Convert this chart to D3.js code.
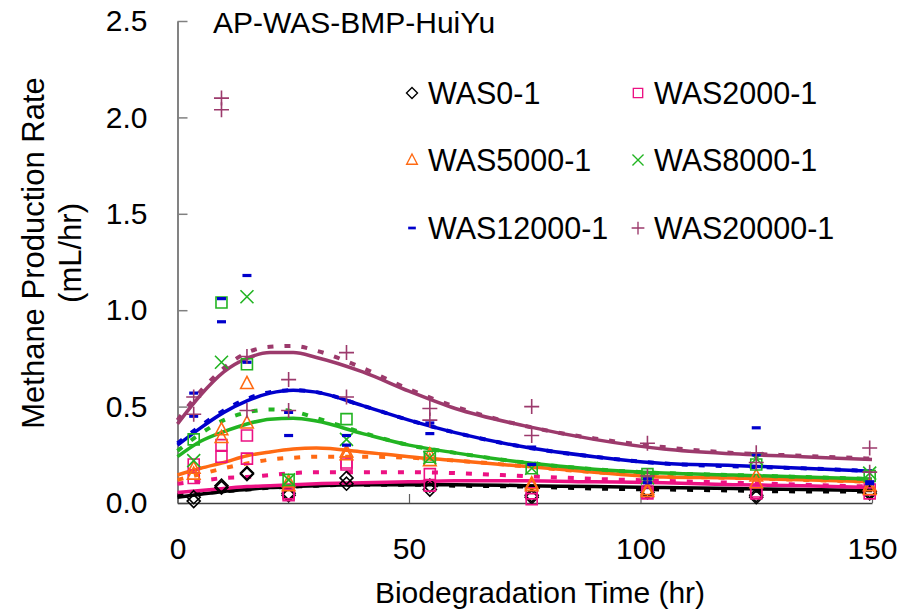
<!DOCTYPE html>
<html><head><meta charset="utf-8">
<script src="https://cdn.jsdelivr.net/npm/d3@7"></script>
<style>
body{margin:0;background:#fff}
svg{display:block}
text{font-family:"Liberation Sans",Arial,sans-serif;fill:#000}
</style>
</head><body>
<svg id="chart" width="906" height="611"></svg>
<script>
// ---------- data ----------
const chartTitle = "AP-WAS-BMP-HuiYu";
const seriesNames = ["WAS0-1","WAS2000-1","WAS5000-1","WAS8000-1","WAS12000-1","WAS20000-1"];
const xTicks = [0, 50, 100, 150];
const yTicks = [0.0, 0.5, 1.0, 1.5, 2.0, 2.5];

// measured points (two replicates per sample time)
const sampleTimes = [3.5, 9.5, 15, 24, 36.5, 54.5, 76.5, 101.5, 125, 149.5];
const was0A     = [0.03, 0.09, 0.155, 0.05, 0.13, 0.09, 0.04, 0.065, 0.03, 0.06];
const was0B     = [0.01, 0.08, 0.15, 0.04, 0.10, 0.07, 0.03, 0.055, 0.04, 0.05];
const was2000A  = [0.20, 0.30, 0.35, 0.05, 0.21, 0.15, 0.02, 0.06, 0.06, 0.07];
const was2000B  = [0.13, 0.24, 0.23, 0.04, 0.20, 0.09, 0.05, 0.05, 0.05, 0.05];
const was5000A  = [0.18, 0.38, 0.62, 0.09, 0.265, 0.25, 0.10, 0.06, 0.14, 0.09];
const was5000B  = [0.15, 0.34, 0.415, 0.11, 0.25, 0.22, 0.09, 0.07, 0.105, 0.07];
const was8000A  = [0.22, 0.73, 1.07, 0.12, 0.33, 0.235, 0.18, 0.13, 0.23, 0.155];
const was8000B  = [0.33, 1.04, 0.72, 0.12, 0.435, 0.24, 0.18, 0.15, 0.20, 0.14];
const was12000A = [0.57, 1.06, 1.18, 0.47, 0.35, 0.415, 0.29, 0.125, 0.39, 0.11];
const was12000B = [0.45, 0.94, 0.73, 0.35, 0.30, 0.36, 0.20, 0.105, 0.25, 0.10];
const was20000A = [0.55, 2.10, 0.76, 0.64, 0.78, 0.49, 0.50, 0.31, 0.26, 0.285];
const was20000B = [0.46, 2.04, 0.48, 0.48, 0.55, 0.43, 0.35, 0.14, 0.21, 0.16];

// fitted curves (solid) and model curves (dashed)
const curveTimes = [0, 5, 10, 15, 20, 25, 30, 40, 50, 60, 75, 90, 105, 120, 135, 150];
const was0Fit      = [0.03, 0.045, 0.06, 0.07, 0.08, 0.085, 0.09, 0.095, 0.095, 0.095, 0.09, 0.085, 0.08, 0.075, 0.07, 0.065];
const was0Model    = [0.04, 0.05, 0.06, 0.07, 0.08, 0.085, 0.09, 0.095, 0.095, 0.09, 0.085, 0.075, 0.07, 0.065, 0.06, 0.06];
const was2000Fit   = [0.055, 0.065, 0.075, 0.085, 0.09, 0.095, 0.10, 0.105, 0.11, 0.115, 0.115, 0.11, 0.105, 0.095, 0.09, 0.08];
const was2000Model = [0.10, 0.115, 0.13, 0.135, 0.145, 0.155, 0.16, 0.16, 0.16, 0.155, 0.14, 0.125, 0.115, 0.105, 0.095, 0.085];
const was5000Fit   = [0.145, 0.18, 0.21, 0.245, 0.265, 0.28, 0.285, 0.265, 0.24, 0.22, 0.19, 0.16, 0.135, 0.13, 0.12, 0.11];
const was5000Model = [0.12, 0.15, 0.18, 0.205, 0.225, 0.235, 0.24, 0.24, 0.235, 0.22, 0.19, 0.16, 0.14, 0.13, 0.12, 0.11];
const was8000Fit   = [0.24, 0.32, 0.37, 0.41, 0.435, 0.44, 0.425, 0.36, 0.30, 0.26, 0.21, 0.175, 0.155, 0.145, 0.135, 0.125];
const was8000Model = [0.27, 0.36, 0.43, 0.47, 0.485, 0.475, 0.44, 0.365, 0.30, 0.26, 0.21, 0.175, 0.155, 0.145, 0.135, 0.125];
const was12000Fit  = [0.30, 0.39, 0.47, 0.53, 0.57, 0.585, 0.575, 0.505, 0.43, 0.365, 0.29, 0.24, 0.205, 0.195, 0.18, 0.165];
const was12000Model= [0.31, 0.40, 0.48, 0.54, 0.575, 0.585, 0.575, 0.505, 0.43, 0.365, 0.29, 0.24, 0.205, 0.19, 0.18, 0.165];
const was20000Fit  = [0.41, 0.56, 0.68, 0.75, 0.78, 0.78, 0.755, 0.68, 0.58, 0.49, 0.40, 0.33, 0.28, 0.255, 0.24, 0.225];
const was20000Model= [0.43, 0.58, 0.70, 0.78, 0.81, 0.815, 0.79, 0.70, 0.59, 0.50, 0.40, 0.335, 0.29, 0.26, 0.245, 0.23];

// ---------- setup ----------
const colors = ["#000000", "#EC1183", "#FF6A13", "#22B422", "#0000CC", "#9C3A6C"];
const markerA = ["diamond", "square", "triangle", "times", "dash", "plus"];
const markerB = ["diamond", "square", "triangle", "square", "dash", "plus"];
const repA = [was0A, was2000A, was5000A, was8000A, was12000A, was20000A];
const repB = [was0B, was2000B, was5000B, was8000B, was12000B, was20000B];
const fits = [was0Fit, was2000Fit, was5000Fit, was8000Fit, was12000Fit, was20000Fit];
const models = [was0Model, was2000Model, was5000Model, was8000Model, was12000Model, was20000Model];

const svg = d3.select("#chart");
const x = d3.scaleLinear().domain([0, 150]).range([177.5, 872]);
const y = d3.scaleLinear().domain([0, 2.5]).range([503, 21]);

function shapePath(kind) {
  switch (kind) {
    case "diamond": return "M0,-6.5L6.5,0L0,6.5L-6.5,0Z";
    case "square": return "M-5.5,-5.5H5.5V5.5H-5.5Z";
    case "triangle": return "M0,-7L6.3,5L-6.3,5Z";
    case "times": return "M-6.5,-6.5L6.5,6.5M-6.5,6.5L6.5,-6.5";
    case "plus": return "M-7.5,0H7.5M0,-7.5V7.5";
    case "dash": return "M-4.5,-1.6H4.5V1.6H-4.5Z";
  }
}
function drawMarker(g, kind, color) {
  g.append("path").attr("d", shapePath(kind))
    .attr("fill", kind === "dash" ? color : "none")
    .attr("stroke", kind === "dash" ? "none" : color)
    .attr("stroke-width", 1.6);
}

// axes
const yAxis = d3.axisLeft(y).tickValues(yTicks).tickFormat(d3.format(".1f"))
  .tickSizeInner(-10).tickSizeOuter(0).tickPadding(30);
const gy = svg.append("g").attr("transform", `translate(${x(0)},0)`).call(yAxis);
gy.select(".domain").attr("stroke", "#404040").attr("stroke-width", 1.3);
gy.selectAll(".tick line").attr("stroke", "#808080").attr("stroke-width", 1.5);
gy.selectAll(".tick text").attr("font-size", 30).attr("fill", "#000")
  .attr("font-family", "Liberation Sans, Arial, sans-serif");

const xAxis = d3.axisBottom(x).tickValues(xTicks).tickFormat(d3.format("d"))
  .tickSizeInner(-9).tickSizeOuter(0).tickPadding(35);
const gx = svg.append("g").attr("transform", `translate(0,${y(0)})`).call(xAxis);
gx.select(".domain").attr("stroke", "#404040").attr("stroke-width", 1.3);
gx.selectAll(".tick line").attr("stroke", "#606060").attr("stroke-width", 1.2);
gx.selectAll(".tick text").attr("font-size", 30).attr("fill", "#000")
  .attr("font-family", "Liberation Sans, Arial, sans-serif");

// curves
const line = d3.line().x((d, i) => x(curveTimes[i])).y(d => y(d)).curve(d3.curveMonotoneX);
const plot = svg.append("g");
for (let s = 0; s < 6; s++) {
  plot.append("path").datum(fits[s]).attr("d", line)
    .attr("fill", "none").attr("stroke", colors[s]).attr("stroke-width", 3.5)
    .attr("stroke-linejoin", "round");
  plot.append("path").datum(models[s]).attr("d", line)
    .attr("fill", "none").attr("stroke", colors[s]).attr("stroke-width", 4)
    .attr("stroke-dasharray", "6,11");
}

// markers
for (let s = 0; s < 6; s++) {
  [[repA[s], markerA[s]], [repB[s], markerB[s]]].forEach(([vals, kind]) => {
    vals.forEach((v, i) => {
      const g = plot.append("g").attr("transform", `translate(${x(sampleTimes[i])},${y(v)})`);
      drawMarker(g, kind, colors[s]);
    });
  });
}

// title
svg.append("text").attr("x", 213).attr("y", 33).attr("font-size", 30).text(chartTitle);

// axis titles
svg.append("text").attr("x", 540).attr("y", 603).attr("text-anchor", "middle")
  .attr("font-size", 30).text("Biodegradation Time (hr)");
const yt = svg.append("g").attr("transform", "translate(0,253) rotate(-90)");
yt.append("text").attr("x", 0).attr("y", 44).attr("text-anchor", "middle")
  .attr("font-size", 31).text("Methane Production Rate");
yt.append("text").attr("x", 0).attr("y", 81).attr("text-anchor", "middle")
  .attr("font-size", 31).text("(mL/hr)");

// legend
const legCols = [412, 638];
const legRows = [93, 160, 228];
seriesNames.forEach((name, i) => {
  const cx = legCols[i % 2], cy = legRows[Math.floor(i / 2)];
  const g = svg.append("g").attr("transform", `translate(${cx},${cy})`);
  const lg = g.append("g").attr("transform", "scale(0.85)");
  drawMarker(lg, markerA[i], colors[i]);
  g.append("text").attr("x", 16).attr("y", 10.5).attr("font-size", 30.5).text(name);
});
</script>
</body></html>
